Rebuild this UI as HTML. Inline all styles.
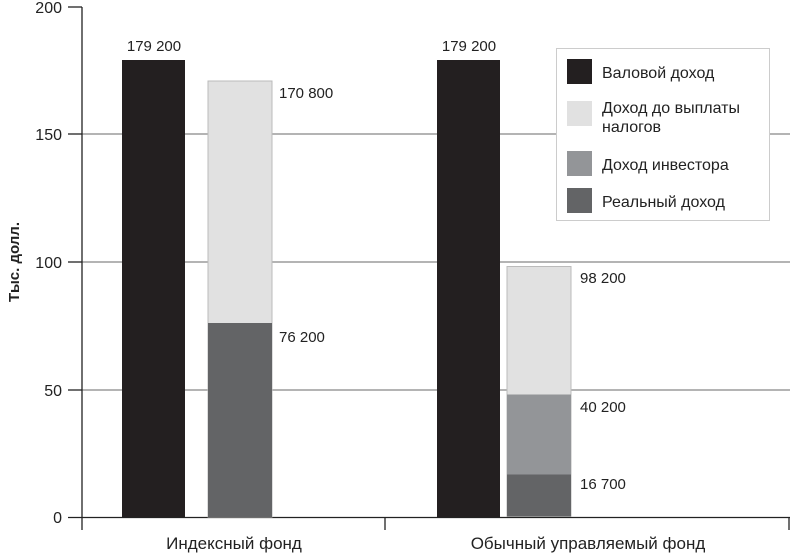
<!DOCTYPE html>
<html><head><meta charset="utf-8"><style>html,body{margin:0;padding:0;background:#fff}</style></head>
<body>
<svg width="790" height="554" xmlns="http://www.w3.org/2000/svg" font-family="Liberation Sans, DejaVu Sans, sans-serif">
<g stroke="#888" stroke-width="1.2">
<line x1="82" y1="134" x2="790" y2="134"/>
<line x1="82" y1="262" x2="790" y2="262"/>
<line x1="82" y1="390" x2="790" y2="390"/>
</g>
<g stroke="#222" stroke-width="1.3">
<line x1="82" y1="7" x2="82" y2="530"/>
<line x1="68" y1="517.5" x2="790" y2="517.5"/>
<line x1="68" y1="7" x2="82" y2="7"/>
<line x1="68" y1="134" x2="82" y2="134"/>
<line x1="68" y1="262" x2="82" y2="262"/>
<line x1="68" y1="390" x2="82" y2="390"/>
<line x1="385" y1="517" x2="385" y2="530"/>
<line x1="789" y1="517" x2="789" y2="530"/>
</g>
<g font-size="16" fill="#222" text-anchor="end">
<text x="62" y="13">200</text><text x="62" y="140">150</text><text x="62" y="268">100</text><text x="62" y="396">50</text><text x="62" y="523">0</text>
</g>
<text transform="translate(19,262) rotate(-90)" text-anchor="middle" font-size="15" font-weight="bold" fill="#222">Тыс. долл.</text>
<rect x="122" y="60" width="63" height="457" fill="#231f20"/>
<rect x="208" y="81" width="64" height="436" fill="#e1e1e1" stroke="#bbb"/>
<rect x="208" y="323" width="64" height="194" fill="#636466"/>
<rect x="437" y="60" width="63" height="457" fill="#231f20"/>
<rect x="507" y="266.5" width="64" height="250" fill="#e1e1e1" stroke="#bbb"/>
<rect x="507" y="394.5" width="64" height="122" fill="#939598"/>
<rect x="507" y="474.5" width="64" height="42" fill="#636466"/>
<g font-size="15" fill="#222">
<text x="154" y="51" text-anchor="middle">179 200</text>
<text x="469" y="51" text-anchor="middle">179 200</text>
<text x="279" y="98">170 800</text>
<text x="279" y="342">76 200</text>
<text x="580" y="283">98 200</text>
<text x="580" y="412">40 200</text>
<text x="580" y="489">16 700</text>
</g>
<rect x="556.5" y="48.5" width="213" height="172" fill="#fff" stroke="#ccc"/>
<rect x="567" y="59" width="25" height="25" fill="#231f20"/>
<rect x="567" y="101" width="25" height="25" fill="#e1e1e1"/>
<rect x="567" y="151" width="25" height="25" fill="#939598"/>
<rect x="567" y="188" width="25" height="25" fill="#636466"/>
<g font-size="16" fill="#222">
<text x="602" y="78">Валовой доход</text>
<text x="602" y="113">Доход до выплаты</text>
<text x="602" y="132">налогов</text>
<text x="602" y="170">Доход инвестора</text>
<text x="602" y="207">Реальный доход</text>
</g>
<g font-size="17" fill="#222" text-anchor="middle">
<text x="234" y="549">Индексный фонд</text>
<text x="588" y="549">Обычный управляемый фонд</text>
</g>
</svg>
</body></html>
